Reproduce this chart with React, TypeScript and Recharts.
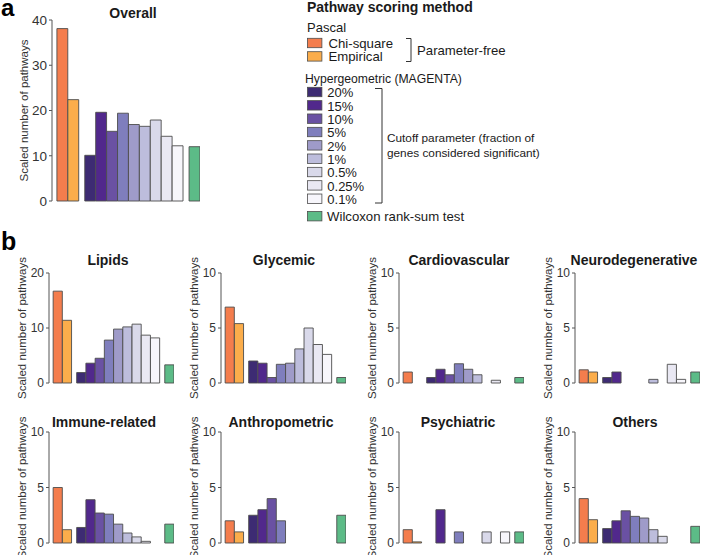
import React from 'react';
import { BarChart, Bar, XAxis, YAxis, Cell } from 'recharts';

const FONT = '"Liberation Sans", Arial, Helvetica, sans-serif';
const AXIS = '#555';
const OUTLINE = '#4d4d4d';
const INK = '#1a1a1a';

// scoring methods, in bar order
const methodNames = ['Chi-square', 'Empirical', '20%', '15%', '10%', '5%', '2%', '1%', '0.5%', '0.25%', '0.1%', 'Wilcoxon rank-sum test'];
const methodColors = ['#f47d4d', '#fbad4b', '#3d2b73', '#51288c', '#6a51a3', '#7f7ebd', '#9f9bc9', '#bdbddc', '#d9d9ea', '#e9e8f3', '#f7f6fb', '#5cbb87'];
// 0 = Pascal, 1 = Hypergeometric (MAGENTA), 2 = Wilcoxon
const methodGroup = [0, 0, 1, 1, 1, 1, 1, 1, 1, 1, 1, 2];

// scaled number of pathways per method
const overall = [38.1, 22.4, 10.1, 19.6, 15.4, 19.4, 16.9, 16.5, 17.9, 14.3, 12.2, 12.0];
const lipids = [16.7, 11.4, 1.9, 3.6, 4.5, 7.8, 9.8, 10.2, 10.7, 8.7, 8.2, 3.3];
const glycemic = [6.9, 5.4, 2.0, 1.8, 0.5, 1.7, 1.8, 3.1, 5.0, 3.5, 2.6, 0.5];
const cardiovascular = [1.0, 0, 0.5, 1.25, 0.75, 1.75, 1.25, 0.75, 0, 0.25, 0, 0.5];
const neurodegenerative = [1.2, 1.0, 0.5, 1.0, 0, 0, 0, 0.33, 0, 1.7, 0.33, 1.0];
const immune = [5.0, 1.2, 1.4, 3.9, 2.7, 2.6, 1.7, 0.9, 0.55, 0.15, 0, 1.7];
const anthropometric = [2.0, 1.0, 2.5, 3.0, 4.0, 2.0, 0, 0, 0, 0, 0, 2.5];
const psychiatric = [1.2, 0.1, 0, 3.0, 0, 1.0, 0, 0, 1.0, 0, 1.0, 1.0];
const others = [4.0, 2.1, 1.3, 2.0, 2.9, 2.4, 2.25, 1.2, 0.6, 0, 0, 1.5];

const overallTicks = [0, 10, 20, 30, 40];
const lipidTicks = [0, 10, 20];
const tenTicks = [0, 5, 10];

// small gap between method groups, in bar widths
const GROUP_GAP = 0.55;
const X_MIN = -0.5 - 0.45;
const X_MAX = 11 + 2 * GROUP_GAP + 0.5;

const toRows = (values: number[]) =>
  methodNames.map((m, i) => ({ method: m, slot: i + methodGroup[i] * GROUP_GAP, value: values[i] }));

type PanelProps = {
  values: number[];
  yMax: number;
  ticks: number[];
  left: number;
  top: number;
  width: number;
  height: number;
  mTop: number;
  mBottom: number;
  yAxisWidth: number;
  labelDx: number;
  tickFont: number;
};

function MethodBars({ values, yMax, ticks, left, top, width, height, mTop, mBottom, yAxisWidth, labelDx, tickFont }: PanelProps) {
  const margin = { top: mTop, right: 5, bottom: mBottom, left: 0 };
  const plotW = width - margin.left - margin.right - yAxisWidth;
  const unit = plotW / (X_MAX - X_MIN);
  return (
    <div style={{ position: 'absolute', left, top }}>
      <BarChart width={width} height={height} data={toRows(values)} margin={margin}>
        <XAxis
          type="number"
          dataKey="slot"
          domain={[X_MIN, X_MAX]}
          allowDataOverflow
          tick={false}
          tickLine={false}
          axisLine={{ stroke: AXIS, strokeWidth: 1 }}
          height={0}
        />
        <YAxis
          type="number"
          domain={[0, yMax]}
          ticks={ticks}
          interval={0}
          width={yAxisWidth}
          axisLine={{ stroke: AXIS, strokeWidth: 1 }}
          tickLine={{ stroke: AXIS }}
          tickSize={3}
          tickMargin={2}
          tick={{ fill: '#333', fontSize: tickFont, fontFamily: FONT }}
          label={{
            value: 'Scaled number of pathways',
            angle: -90,
            position: 'center',
            dx: labelDx,
            style: { fill: '#333', fontSize: 11.5, fontFamily: FONT },
          }}
        />
        <Bar dataKey="value" barSize={unit - 0.05} stroke={OUTLINE} strokeWidth={0.9} isAnimationActive={false}>
          {values.map((_, i) => (
            <Cell key={i} fill={methodColors[i]} />
          ))}
        </Bar>
      </BarChart>
    </div>
  );
}

const categoryNames = ['Lipids', 'Glycemic', 'Cardiovascular', 'Neurodegenerative', 'Immune-related', 'Anthropometric', 'Psychiatric', 'Others'];
const categoryValues = [lipids, glycemic, cardiovascular, neurodegenerative, immune, anthropometric, psychiatric, others];
const categoryMax = [20, 10, 10, 10, 10, 10, 10, 10];
const categoryTicks = [lipidTicks, tenTicks, tenTicks, tenTicks, tenTicks, tenTicks, tenTicks, tenTicks];

const colAxisX = [49, 221, 399, 575];
const titleX = [[108, 284, 459, 634], [104, 281, 458, 635]];
const titleY = [265, 427];

function Legend() {
  const boxX = 307.5;
  const step = 13.4;
  return (
    <g fontFamily={FONT} fill={INK}>
      <text x={307} y={12} fontSize={14} fontWeight="bold">Pathway scoring method</text>
      <text x={307} y={32} fontSize={13}>Pascal</text>
      {[0, 1].map((i) => (
        <g key={i}>
          <rect x={boxX} y={38.3 + i * step} width={14.4} height={9.4} fill={methodColors[i]} stroke={OUTLINE} strokeWidth={0.8} />
          <text x={328.5} y={47.5 + i * step} fontSize={13.2}>{methodNames[i]}</text>
        </g>
      ))}
      <path d="M406 38.5 H411 V61.5 H406" fill="none" stroke="#333" strokeWidth={1} />
      <text x={417} y={54.5} fontSize={13.2}>Parameter-free</text>
      <text x={305} y={82.5} fontSize={12.2}>Hypergeometric (MAGENTA)</text>
      {methodNames.slice(2, 11).map((name, k) => (
        <g key={name}>
          <rect x={boxX} y={87.3 + k * 13.34} width={14.4} height={9.4} fill={methodColors[k + 2]} stroke={OUTLINE} strokeWidth={0.8} />
          <text x={327.3} y={97.3 + k * 13.34} fontSize={13}>{name}</text>
        </g>
      ))}
      <path d="M375 88.5 H382 V203 H375" fill="none" stroke="#333" strokeWidth={1} />
      <text x={387} y={142} fontSize={11.8}>Cutoff parameter (fraction of</text>
      <text x={387} y={156.5} fontSize={11.8}>genes considered significant)</text>
      <rect x={boxX} y={211.5} width={14.4} height={9.4} fill={methodColors[11]} stroke={OUTLINE} strokeWidth={0.8} />
      <text x={327} y={220.5} fontSize={13.2}>{methodNames[11]}</text>
    </g>
  );
}

export default function App() {
  return (
    <div style={{ position: 'absolute', left: 0, top: 0, width: 702, height: 555, overflow: 'hidden', background: '#fff', fontFamily: FONT }}>
      <MethodBars
        values={overall}
        yMax={40}
        ticks={overallTicks}
        left={0}
        top={0}
        width={205}
        height={210}
        mTop={20}
        mBottom={9}
        yAxisWidth={52}
        labelDx={-2.5}
        tickFont={13.5}
      />
      {categoryValues.map((vals, i) => {
        const row = Math.floor(i / 4);
        const col = i % 4;
        return (
          <MethodBars
            key={categoryNames[i]}
            values={vals}
            yMax={categoryMax[i]}
            ticks={categoryTicks[i]}
            left={colAxisX[col] - 40}
            top={row === 0 ? 240 : 400}
            width={170}
            height={row === 0 ? 170 : 155}
            mTop={row === 0 ? 33 : 32}
            mBottom={row === 0 ? 27 : 12}
            yAxisWidth={40}
            labelDx={-7}
            tickFont={12}
          />
        );
      })}
      <svg width={702} height={555} style={{ position: 'absolute', left: 0, top: 0, pointerEvents: 'none' }}>
        <text x={1} y={16} fontFamily={FONT} fontSize={24} fontWeight="bold" fill="#000">a</text>
        <text x={1} y={250} fontFamily={FONT} fontSize={25} fontWeight="bold" fill="#000">b</text>
        <text x={133} y={18} textAnchor="middle" fontFamily={FONT} fontSize={14} fontWeight="bold" fill={INK}>Overall</text>
        {categoryNames.map((name, i) => {
          const row = Math.floor(i / 4);
          const col = i % 4;
          return (
            <text key={name} x={titleX[row][col]} y={titleY[row]} textAnchor="middle" fontFamily={FONT} fontSize={14} fontWeight="bold" fill={INK}>
              {name}
            </text>
          );
        })}
        <Legend />
      </svg>
    </div>
  );
}
